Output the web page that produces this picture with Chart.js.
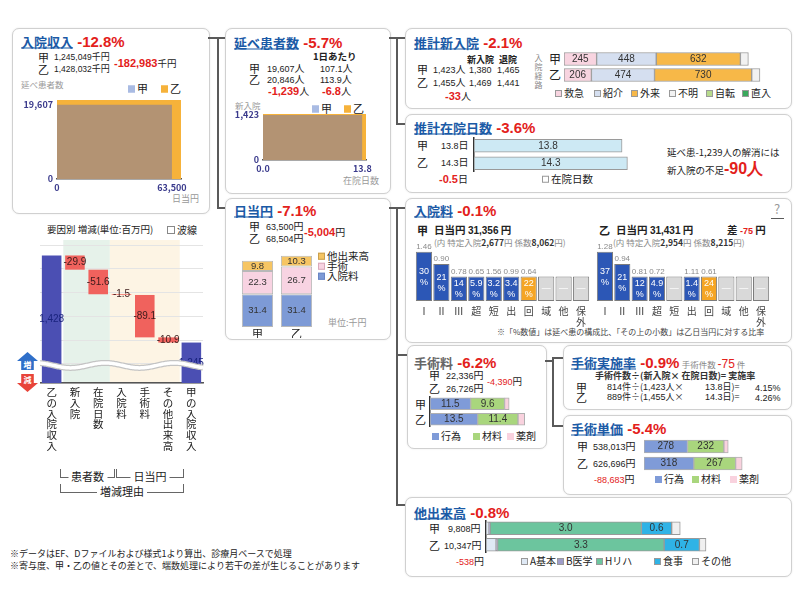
<!DOCTYPE html>
<html lang="ja">
<head>
<meta charset="utf-8">
<script src="https://cdn.jsdelivr.net/npm/chart.js@4.4.1/dist/chart.umd.min.js"></script>
<style>
  body { margin:0; width:800px; height:600px; background:#fff; position:relative; overflow:hidden;
         font-family:'Noto Sans CJK JP', 'Noto Sans', sans-serif; color:#222; }
  .panel { position:absolute; border:1px solid #d0d0d0; border-radius:7px; background:#fff; box-shadow:0 0 2px rgba(0,0,0,0.10); }
  .t { position:absolute; white-space:nowrap; transform:translateY(-50%); font-size:10px; line-height:1; }
  .ttl { color:#1b5aa6; font-weight:bold; text-decoration:underline; font-size:13px; }
  .ttl2 { color:#666; font-weight:bold; font-size:13px; }
  .pct { color:#e3211b; font-weight:bold; font-size:15px; font-family:'Liberation Sans', Arial, sans-serif; }
  .rn { color:#e3211b; font-weight:bold; font-size:11px; font-family:'Liberation Sans', Arial, sans-serif; }
  .n { font-family:'Liberation Sans', Arial, sans-serif; font-size:9px; }
  .sq { display:inline-block; width:7px; height:7px; margin-right:2px; box-sizing:border-box; border:1px solid #999; vertical-align:0; }
  .ln { position:absolute; background:#5a5a5a; }
  canvas { position:absolute; }
</style>
</head>
<body>
<script>
// ===== data =====
const groups = ['甲', '乙'];
const patientDays = [19607, 20846];      // 延べ患者数
const dailyYen = [63500, 68504];         // 日当円
const newAdmit = [1423, 1455];           // 新入院
const stayDays = [13.8, 14.3];           // 在院日数

const routeNames = ['救急', '紹介', '外来', '不明', '自転', '直入'];
const routeKou = [245, 448, 632, 60, 0, 0];
const routeOtsu = [206, 474, 730, 62, 0, 0];

const wfLabels = ['乙の入院収入', '新入院', '在院日数', '入院料', '手術料', 'その他出来高', '甲の入院収入'];
const wfStart = 1428;
const wfDeltas = [-29.9, -51.6, -1.5, -89.1, -10.9];
const wfEnd = 1245;

const dailyParts = ['入院料', '手術', '他出来高'];
const dailyKou = [31.4, 22.3, 9.8];
const dailyOtsu = [31.4, 26.7, 10.3];

const feeCats = ['Ⅰ', 'Ⅱ', 'Ⅲ', '超', '短', '出', '回', '域', '他', '保外'];
const feeLevelKou = [2, 1.5, 1, 1, 1, 1, 1, 1, 1, 1];
const feeLevelOtsu = [2, 1.5, 1, 1, 1, 1, 1, 1, 1, 1];
const feeShareKou = ['30', '21', '14', '5.9', '3.2', '3.4', '22', null, null, null];
const feeRatioKou = ['1.46', '0.90', '0.78', '0.65', '1.56', '0.99', '0.64', null, null, null];
const feeShareOtsu = ['37', '21', '12', '4.9', null, '1.4', '24', null, null, null];
const feeRatioOtsu = ['1.28', '0.94', '0.81', '0.72', null, '1.11', '0.61', null, null, null];

const surgParts = ['行為', '材料', '薬剤'];
const surgKou = [11.5, 9.6, 1.3];
const surgOtsu = [13.5, 11.4, 1.9];
const unitKou = [278, 232, 28];
const unitOtsu = [318, 267, 42];

const otherParts = ['A基本', 'B医学', 'Hリハ', '食事', 'その他'];
const otherKou = [0.06, 0.02, 3.0, 0.6, 0.17];
const otherOtsu = [0.2, 0.03, 3.3, 0.7, 0.13];

// ===== colours =====
const C_KOU = '#b39373', C_KOU_LEG = '#a9bbe3', C_OTSU = '#f6b23a';
const routeColors = ['#f8d4e0', '#d5dff0', '#f7b848', '#f2f2f2', '#b7da8c', '#3aa85c'];
const dailyColors = ['#7d9ad6', '#f8d3e2', '#f6c563'];
const surgColors = ['#7f9bd8', '#a9d67d', '#f9d2de'];
const otherColors = ['#dfe9f5', '#9f9cc9', '#6cc59e', '#2fb3e6', '#f0f0f0'];

Chart.defaults.font.family = "'Noto Sans CJK JP', sans-serif";
Chart.defaults.animation = false;
Chart.defaults.responsive = false;
Chart.defaults.maintainAspectRatio = false;
Chart.defaults.plugins.legend.display = false;
Chart.defaults.plugins.tooltip.enabled = false;

// ===== helpers =====
function box(x, y, w, h) {
  const d = document.createElement('div');
  d.className = 'panel';
  d.style.cssText += `left:${x}px;top:${y}px;width:${w}px;height:${h}px;`;
  document.body.appendChild(d);
}
function line(x, y, w, h) {
  const d = document.createElement('div');
  d.className = 'ln';
  d.style.cssText += `left:${x}px;top:${y}px;width:${w}px;height:${h}px;`;
  document.body.appendChild(d);
}
function put(x, y, html, style) {
  const d = document.createElement('div');
  d.className = 't';
  d.style.left = x + 'px';
  d.style.top = y + 'px';
  if (style) d.style.cssText += style;
  d.innerHTML = html;
  document.body.appendChild(d);
  return d;
}
function mk(x, y, w, h) {
  const c = document.createElement('canvas');
  c.width = w; c.height = h;
  c.style.left = x + 'px'; c.style.top = y + 'px';
  c.style.width = w + 'px'; c.style.height = h + 'px';
  document.body.appendChild(c);
  return c;
}
const title = (a, b, cls = 'ttl') => `<span class="${cls}">${a}</span><span class="pct"> ${b}</span>`;
const red = s => `<span class="rn">${s}</span>`;
const sq = (c, b) => `<span class="sq" style="background:${c};border-color:${b || c}"></span>`;
const legend = (y, xs, names, colors, border) =>
  names.forEach((n, i) => put(xs[i], y, sq(colors[i], border) + n, 'font-size:10px'));

// draws a text in the middle of each bar that has ds.texts
const barText = {
  id: 'barText',
  afterDatasetsDraw(chart, args, opts) {
    const ctx = chart.ctx;
    ctx.save();
    ctx.textAlign = 'center';
    ctx.textBaseline = 'middle';
    ctx.font = `${opts.size || 10}px 'Liberation Sans', sans-serif`;
    chart.data.datasets.forEach((ds, i) => {
      if (!ds.texts) return;
      chart.getDatasetMeta(i).data.forEach((el, j) => {
        if (ds.texts[j] == null) return;
        const p = el.getCenterPoint();
        ctx.fillStyle = (ds.textColors && ds.textColors[j]) || opts.color || '#333';
        ctx.fillText(ds.texts[j], p.x, p.y);
      });
    });
    ctx.restore();
  }
};

// ===== panels & connectors =====
box(12, 28, 196, 184);
box(225, 28, 164, 164);
box(405, 28, 385, 79);
box(405, 114, 385, 77);
box(225, 198, 164, 140);
box(405, 198, 385, 143);
box(407, 345, 138, 102);
box(563, 345, 227, 63);
box(563, 415, 227, 78);
box(405, 497, 385, 78);

line(208, 37, 17, 2); line(217, 37, 2, 172); line(217, 207, 8, 2);
line(389, 37, 16, 2); line(396, 37, 2, 88); line(396, 123, 9, 2);
line(389, 207, 16, 2); line(396, 207, 2, 299); line(396, 354, 11, 2); line(396, 504, 9, 2);
line(545, 360, 9, 2); line(552, 357, 2, 70); line(552, 357, 11, 2); line(552, 425, 11, 2);

// ===== 入院収入 =====
put(21, 41, title('入院収入', '-12.8%'));
put(38, 57, '甲', 'font-size:11px'); put(54, 57, '<span class="n" style="font-size:8.5px">1,245,049</span>千円', 'font-size:9px');
put(38, 69, '乙', 'font-size:11px'); put(54, 69, '<span class="n" style="font-size:8.5px">1,428,032</span>千円', 'font-size:9px');
put(114, 63, red('-182,983') + '千円', 'font-size:9.5px');
put(21, 84, '延べ患者数', 'font-size:8.5px;color:#999');
put(128, 88, sq(C_KOU_LEG) + '甲', 'font-size:11px');
put(161, 88, sq(C_OTSU) + '乙', 'font-size:11px');
put(172, 198, '日当円', 'font-size:9px;color:#999');

function areaChart(canvas, xs, ys, xFmt, yW, padR) {
  const tickFont = { size: 9, weight: 'bold' };
  return new Chart(canvas, {
    type: 'scatter',
    data: { datasets: [
      { label: '甲', data: [{ x: 0, y: ys[0] }, { x: xs[0], y: ys[0] }], showLine: true, fill: 'origin',
        backgroundColor: C_KOU, borderColor: 'rgba(0,0,0,0)', borderWidth: 0, pointRadius: 0, order: 0 },
      { label: '乙', data: [{ x: 0, y: ys[1] }, { x: xs[1], y: ys[1] }], showLine: true, fill: 'origin',
        backgroundColor: C_OTSU, borderColor: 'rgba(0,0,0,0)', borderWidth: 0, pointRadius: 0, order: 1 },
    ] },
    options: {
      layout: { padding: { top: 6, right: padR, left: 0, bottom: 0 } },
      scales: {
        x: { type: 'linear', min: 0, max: xs[1], grid: { display: false, drawTicks: false }, border: { color: '#555', width: 1.5 },
             afterBuildTicks: s => { s.ticks = [{ value: 0 }, { value: xs[0] }]; },
             afterFit: s => { s.height = 14; s.paddingLeft = 0; s.paddingRight = 0; },
             ticks: { color: '#3a3a8c', font: tickFont, padding: 3, autoSkip: false, maxRotation: 0, callback: xFmt } },
        y: { min: 0, max: ys[1], grid: { display: false, drawTicks: false }, border: { display: false },
             afterBuildTicks: s => { s.ticks = [{ value: 0 }, { value: ys[0] }]; },
             afterFit: s => { s.width = yW; s.paddingTop = 0; s.paddingBottom = 0; },
             ticks: { color: '#3a3a8c', font: tickFont, padding: 4, autoSkip: false, callback: v => v.toLocaleString('en-US') } }
      }
    }
  });
}
areaChart(mk(17, 94, 172, 99), dailyYen, patientDays, v => v.toLocaleString('en-US'), 40, 8);

// ===== 延べ患者数 =====
put(234, 42, title('延べ患者数', '-5.7%'));
put(313, 57, '1日あたり', 'font-size:9.5px;font-weight:bold');
put(249, 68, '甲', 'font-size:11px'); put(267, 68, '<span class="n">19,607</span>人'); put(320, 68, '<span class="n">107.1</span>人');
put(249, 79, '乙', 'font-size:11px'); put(267, 79, '<span class="n">20,846</span>人'); put(320, 79, '<span class="n">113.9</span>人');
put(268, 91, red('-1,239') + '人'); put(322, 91, red('-6.8') + '人');
put(235, 105, '新入院', 'font-size:8.5px;color:#999');
put(312, 108, sq(C_KOU_LEG) + '甲', 'font-size:11px');
put(344, 108, sq(C_OTSU) + '乙', 'font-size:11px');
put(343, 180, '在院日数', 'font-size:9px;color:#999');
areaChart(mk(227, 108, 145, 66), stayDays, newAdmit, v => v.toFixed(1), 36, 6);

// ===== 推計新入院 =====
put(414, 42, title('推計新入院', '-2.1%'));
put(467, 59, '新入院', 'font-size:9px;font-weight:bold'); put(499, 59, '退院', 'font-size:9px;font-weight:bold');
put(417, 69, '甲', 'font-size:11px'); put(433, 69, '<span class="n">1,423</span>人'); put(469, 69, '<span class="n">1,380</span>'); put(497, 69, '<span class="n">1,465</span>');
put(417, 82, '乙', 'font-size:11px'); put(433, 82, '<span class="n">1,455</span>人'); put(469, 82, '<span class="n">1,469</span>'); put(497, 82, '<span class="n">1,441</span>');
put(445, 96, red('-33') + '人');
put(534, 54, '入院経路', 'transform:none;writing-mode:vertical-rl;font-size:8px;color:#888;letter-spacing:1px');
put(549, 59, '甲', 'font-size:12px'); put(549, 75, '乙', 'font-size:12px');
legend(93, [555, 594, 631, 669, 706, 742], routeNames, routeColors, '#999');

function hStack(canvas, names, kou, otsu, colors, o) {
  return new Chart(canvas, {
    type: 'bar',
    data: { labels: groups, datasets: names.map((n, i) => ({
      label: n, data: [kou[i], otsu[i]], backgroundColor: colors[i],
      borderColor: o.border || '#9a9a9a', borderWidth: 1, borderSkipped: false, barThickness: o.thick,
      texts: o.fmt && o.fmt[i] ? [o.fmt[i](kou[i]), o.fmt[i](otsu[i])] : null
    })) },
    options: {
      indexAxis: 'y',
      layout: { padding: 0 },
      scales: {
        x: { stacked: true, display: false, min: 0, max: o.max },
        y: { stacked: true, display: !!o.axisLine, grid: { display: false, drawTicks: false }, border: { color: '#333', width: 1.5 },
             ticks: { display: false }, afterFit: s => { s.width = 1; } }
      },
      plugins: { barText: { size: 10, color: '#333' } }
    },
    plugins: [barText]
  });
}
const int = v => String(v);
const one = v => v.toFixed(1);
hStack(mk(563, 51, 214, 32), routeNames, routeKou, routeOtsu, routeColors,
  { thick: 13, max: 1600, fmt: [int, int, int] });

// ===== 推計在院日数 =====
put(414, 127, title('推計在院日数', '-3.6%'));
put(417, 145, '甲', 'font-size:11px'); put(441, 145, '<span class="n">13.8</span>日');
put(417, 162, '乙', 'font-size:11px'); put(441, 162, '<span class="n">14.3</span>日');
put(439, 179, red('-0.5') + '日');
put(542, 179, sq('#fff', '#999') + '在院日数', 'font-size:10.5px');
put(667, 153, '延べ患-1,239人の解消には', 'font-size:9.5px');
put(667, 169, '新入院の不足<span class="rn" style="font-size:16px">-90人</span>', 'font-size:9.5px');
hStack(mk(473, 137, 163, 35), ['在院日数'], [stayDays[0]], [stayDays[1]], ['#cde9f4'],
  { thick: 13, max: 15.1, axisLine: true, fmt: [one] });

// ===== 要因別 増減 (waterfall) =====
put(47, 230, '要因別 増減(単位:百万円)', 'font-size:9.5px');
put(167, 230, '<span class="sq" style="width:8px;height:8px;border-color:#888;background:#fff"></span>波線', 'font-size:10px');

const wfMin = 1160, wfMax = 1450;
const wfBars = [[wfMin, wfStart]];
let run = wfStart;
wfDeltas.forEach(d => { wfBars.push([run + d, run]); run += d; });
wfBars.push([wfMin, wfEnd]);
const wfColors = wfBars.map((b, i) => (i === 0 || i === wfBars.length - 1) ? '#4b4fb3' : (wfDeltas[i - 1] < 0 ? '#f0625d' : '#4b7bd6'));
const wfTexts = [wfStart.toLocaleString('en-US'), ...wfDeltas.map(d => d.toFixed(1)), wfEnd.toLocaleString('en-US')];
const wfTextColors = wfBars.map((b, i) => (i === 0 || i === wfBars.length - 1) ? '#1a237e' : '#3a1a1a');

const bandPlugin = {
  id: 'bands',
  beforeDraw(chart, args, opts) {
    const { ctx, chartArea: a, scales: { x } } = chart;
    const w = x.width / chart.data.labels.length;
    opts.bands.forEach(b => {
      const l = x.getPixelForValue(b.from) - w / 2, r = x.getPixelForValue(b.to) + w / 2;
      ctx.fillStyle = b.color;
      ctx.fillRect(l, a.top - 6, r - l, a.bottom - a.top + 6);
    });
  }
};
const wavePlugin = {
  id: 'wave',
  afterDatasetsDraw(chart, args, opts) {
    const { ctx, chartArea: a, scales: { y } } = chart;
    const yc = y.getPixelForValue(opts.at);
    ctx.save();
    ctx.beginPath();
    for (let x = a.left; x <= a.right; x++) {
      const yy = yc + 2.5 * Math.sin((x - a.left) / 11 - 1.2);
      if (x === a.left) ctx.moveTo(x, yy); else ctx.lineTo(x, yy);
    }
    ctx.strokeStyle = '#c4c4c4'; ctx.lineWidth = 6; ctx.stroke();
    ctx.strokeStyle = '#ffffff'; ctx.lineWidth = 3.5; ctx.stroke();
    ctx.restore();
  }
};
new Chart(mk(40, 240, 164, 226), {
  type: 'bar',
  data: { labels: wfLabels, datasets: [{
    data: wfBars, backgroundColor: wfColors, borderWidth: 0, barPercentage: 0.84, categoryPercentage: 1,
    texts: wfTexts, textColors: wfTextColors
  }] },
  options: {
    layout: { padding: { top: 5, right: 1 } },
    scales: {
      x: { grid: { display: false, drawTicks: false }, border: { color: '#555', width: 1.5 },
           ticks: { color: '#222', font: { size: 10.5, lineHeight: 1.02 }, padding: 4, autoSkip: false, maxRotation: 0,
                    callback: (v, i) => wfLabels[i].split('') },
           afterFit: s => { s.height = 83; } },
      y: { min: wfMin, max: wfMax, grid: { color: '#e4e4e4', drawTicks: false }, border: { display: false },
           ticks: { display: false, stepSize: 50 }, afterFit: s => { s.width = 0; } }
    },
    plugins: {
      barText: { size: 10 },
      bands: { bands: [{ from: 1, to: 2, color: '#e6f2ea' }, { from: 3, to: 5, color: '#fdf4e4' }] },
      wave: { at: 1197 }
    }
  },
  plugins: [bandPlugin, barText, wavePlugin]
});

// 増 / 減 arrows
put(17, 361, '<div style="width:21px;height:18px;background:#2f6fc9;clip-path:polygon(50% 0,100% 50%,80% 50%,80% 100%,20% 100%,20% 50%,0 50%);color:#fff;font-size:8px;font-weight:bold;text-align:center;line-height:26px">増</div>');
put(17, 383, '<div style="width:21px;height:18px;background:#e8443a;clip-path:polygon(20% 0,80% 0,80% 50%,100% 50%,50% 100%,0 50%,20% 50%);color:#fff;font-size:8px;font-weight:bold;text-align:center;line-height:12px">減</div>');

function bracket(x, yBottom, w, label) {
  const d = document.createElement('div');
  d.style.cssText = `position:absolute;left:${x}px;top:${yBottom - 8}px;width:${w}px;height:8px;border:1px solid #666;border-top:none;`;
  const s = document.createElement('span');
  s.textContent = label;
  s.style.cssText = 'position:absolute;left:50%;top:8px;transform:translate(-50%,-55%);background:#fff;padding:0 3px;font-size:11px;white-space:nowrap;line-height:1;';
  d.appendChild(s);
  document.body.appendChild(d);
}
bracket(60, 477, 53, '患者数');
bracket(116, 477, 66, '日当円');
bracket(60, 492, 122, '増減理由');

// ===== 日当円 =====
put(234, 210, title('日当円', '-7.1%'));
put(249, 226, '甲', 'font-size:11px'); put(266, 226, '<span class="n">63,500</span>円');
put(249, 238, '乙', 'font-size:11px'); put(266, 238, '<span class="n">68,504</span>円');
put(304, 232, red('-5,004') + '円');
put(318, 256, sq(dailyColors[2], '#c9a050') + dailyParts[2], 'font-size:10.5px');
put(318, 266, sq(dailyColors[1], '#d9a9bb') + dailyParts[1], 'font-size:10.5px');
put(318, 276, sq(dailyColors[0], '#6a86c4') + dailyParts[0], 'font-size:10.5px');
put(328, 322, '単位:千円', 'font-size:9px;color:#999');
new Chart(mk(238, 254, 78, 84), {
  type: 'bar',
  data: { labels: groups, datasets: dailyParts.map((n, i) => ({
    label: n, data: [dailyKou[i], dailyOtsu[i]], backgroundColor: dailyColors[i],
    borderColor: '#b8b8b8', borderWidth: 1, borderSkipped: false, barPercentage: 0.8, categoryPercentage: 1,
    texts: [dailyKou[i].toFixed(1), dailyOtsu[i].toFixed(1)]
  })) },
  options: {
    scales: {
      x: { stacked: true, grid: { display: false, drawTicks: false }, border: { display: false },
           ticks: { color: '#222', font: { size: 11 }, padding: 0 }, afterFit: s => { s.height = 11; } },
      y: { stacked: true, display: false, min: 0, max: 70 }
    },
    plugins: { barText: { size: 9.5, color: '#333' } }
  },
  plugins: [barText]
});

// ===== 入院料 =====
put(414, 210, title('入院料', '-0.1%'));
put(774, 208, '?', 'font-size:13px;color:#999');
line(771, 218, 13, 1);
put(417, 230, '甲', 'font-size:11px;font-weight:bold');
put(434, 230, '日当円 <span class="n" style="font-size:10px">31,356</span> 円', 'font-size:10.5px;font-weight:bold');
put(434, 242, '(内 特定入院<b style="color:#333">2,677</b>円 係数<b style="color:#333">8,062</b>円)', 'font-size:8.5px;color:#888');
put(599, 230, '乙', 'font-size:11px;font-weight:bold');
put(616, 230, '日当円 <span class="n" style="font-size:10px">31,431</span> 円', 'font-size:10.5px;font-weight:bold');
put(727, 230, '差 <span class="n" style="color:#e3211b">-75</span> 円', 'font-size:10.5px;font-weight:bold');
put(613, 242, '(内 特定入院<b style="color:#333">2,954</b>円 係数<b style="color:#333">8,215</b>円)', 'font-size:8.5px;color:#888');
put(497, 332, '※「%数値」は延べ患の構成比、「その上の小数」は乙日当円に対する比率', 'font-size:8px;color:#444');

const tileText = {
  id: 'tileText',
  afterDatasetsDraw(chart) {
    const ds = chart.data.datasets[0];
    const ctx = chart.ctx;
    ctx.save();
    ctx.textAlign = 'center';
    chart.getDatasetMeta(0).data.forEach((el, j) => {
      const cy = (el.y + el.base) / 2;
      if (ds.ratio[j]) {
        ctx.fillStyle = '#8a8a8a';
        ctx.font = "8px 'Liberation Sans', sans-serif";
        ctx.textBaseline = 'bottom';
        ctx.fillText(ds.ratio[j], el.x, el.y - 1);
      }
      ctx.textBaseline = 'middle';
      ctx.fillStyle = '#fff';
      ctx.font = "9px 'Liberation Sans', sans-serif";
      if (ds.share[j]) {
        ctx.fillText(ds.share[j], el.x, cy - 5);
        ctx.fillText('%', el.x, cy + 6);
      } else {
        ctx.fillText('—', el.x, cy);
      }
    });
    ctx.restore();
  }
};
function tileChart(canvas, level, share, ratio) {
  const colors = feeCats.map((c, i) => c === '回' ? '#f5a524' : (share[i] ? '#2c57b6' : '#d9d9d9'));
  return new Chart(canvas, {
    type: 'bar',
    data: { labels: feeCats, datasets: [{
      data: level, backgroundColor: colors, borderColor: '#7c7c7c', borderWidth: 1, borderSkipped: false,
      barPercentage: 0.93, categoryPercentage: 1, share, ratio
    }] },
    options: {
      scales: {
        x: { grid: { display: false, drawTicks: false }, border: { display: false },
             ticks: { color: '#444', font: { size: 10, lineHeight: 1.1 }, padding: 5, autoSkip: false, maxRotation: 0,
                      callback: (v, i) => feeCats[i].length > 1 ? feeCats[i].split('') : feeCats[i] },
             afterFit: s => { s.height = 27; } },
        y: { display: false, min: 0, max: 2.6 }
      }
    },
    plugins: [tileText]
  });
}
tileChart(mk(414, 237, 177, 91), feeLevelKou, feeShareKou, feeRatioKou);
tileChart(mk(595, 237, 176, 91), feeLevelOtsu, feeShareOtsu, feeRatioOtsu);

// ===== 手術料 =====
put(414, 362, title('手術料', '-6.2%', 'ttl2'));
put(429, 375, '甲', 'font-size:11px'); put(446, 375, '<span class="n">22,336</span>円');
put(429, 388, '乙', 'font-size:11px'); put(446, 388, '<span class="n">26,726</span>円');
put(487, 382, '<span class="rn" style="font-size:9px;font-weight:normal">-4,390</span>円', 'font-size:9.5px');
put(415, 404, '甲', 'font-size:11px'); put(415, 419, '乙', 'font-size:11px');
legend(436, [432, 473, 507], surgParts, surgColors);
hStack(mk(429, 396, 107, 31), surgParts, surgKou, surgOtsu, surgColors,
  { thick: 12, max: 30, axisLine: true, border: '#b0b0b0', fmt: [one, one] });

// ===== 手術実施率 =====
put(571, 362, title('手術実施率', '-0.9%') + ' <span style="font-size:8.5px;color:#888">手術件数 </span><span class="rn" style="font-weight:normal;font-size:12px">-75</span><span style="font-size:8.5px;color:#888"> 件</span>');
put(595, 375, '手術件数÷(新入院× 在院日数)= 実施率', 'font-size:9px;font-weight:bold;color:#333');
put(576, 387, '甲', 'font-size:11px'); put(607, 387, '<span class="n">814</span>件÷(<span class="n">1,423</span>人×', 'font-size:9px');
put(705, 387, '<span class="n">13.8</span>日)=', 'font-size:9px'); put(755, 387, '<span class="n">4.15%</span>');
put(576, 397, '乙', 'font-size:11px'); put(607, 397, '<span class="n">889</span>件÷(<span class="n">1,455</span>人×', 'font-size:9px');
put(705, 397, '<span class="n">14.3</span>日)=', 'font-size:9px'); put(755, 397, '<span class="n">4.26%</span>');

// ===== 手術単価 =====
put(571, 428, title('手術単価', '-5.4%'));
put(577, 446, '甲', 'font-size:11px'); put(593, 446, '<span class="n">538,013</span>円');
put(577, 463, '乙', 'font-size:11px'); put(593, 463, '<span class="n">626,696</span>円');
put(594, 479, '<span class="rn" style="font-size:9px;font-weight:normal">-88,683</span>円');
legend(479, [655, 692, 730], surgParts, surgColors);
hStack(mk(643, 438, 120, 34), surgParts, unitKou, unitOtsu, surgColors,
  { thick: 13, max: 760, border: '#b0b0b0', fmt: [int, int] });

// ===== 他出来高 =====
put(414, 512, title('他出来高', '-0.8%'));
put(429, 528, '甲', 'font-size:11px'); put(448, 528, '<span class="n">9,808</span>円');
put(429, 545, '乙', 'font-size:11px'); put(444, 545, '<span class="n">10,347</span>円');
put(456, 561, '<span class="rn" style="font-size:9px;font-weight:normal">-538</span>円');
legend(561, [521, 557, 596, 654, 692], otherParts, otherColors, '#999');
hStack(mk(485, 520, 223, 33), otherParts, otherKou, otherOtsu, otherColors,
  { thick: 13, max: 4.4, axisLine: true, border: '#999', fmt: [null, null, one, one] });

// ===== footer =====
put(10, 553, '※データはEF、Dファイルおよび様式1より算出、診療月ベースで処理', 'font-size:9px');
put(10, 565, '※寄与度、甲・乙の値とその差とで、端数処理により若干の差が生じることがあります', 'font-size:9px');
</script>
</body>
</html>
